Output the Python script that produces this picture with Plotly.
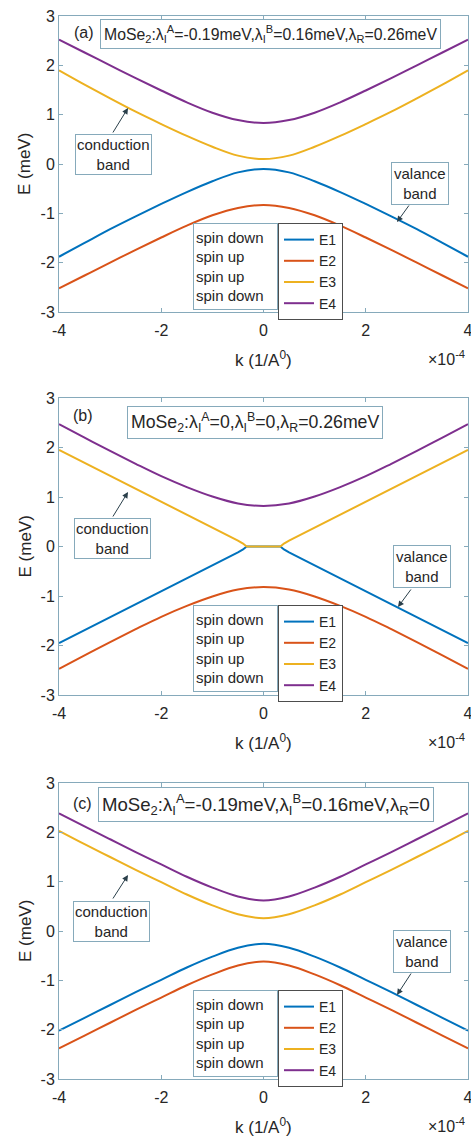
import plotly.graph_objects as go

W, H = 471, 1138

# ---------------- data (k in units of 1e-4 1/A0, E in meV) ----------------
K_AC = [-4, -3.5, -3, -2.5, -2, -1.5, -1, -0.5, 0, 0.5, 1, 1.5, 2, 2.5, 3, 3.5, 4]

E1_A = [-1.88, -1.60, -1.32, -1.06, -0.81, -0.57, -0.35, -0.17, -0.10, -0.17, -0.35, -0.57, -0.81, -1.06, -1.32, -1.60, -1.88]
E2_A = [-2.52, -2.26, -2.00, -1.74, -1.49, -1.25, -1.04, -0.89, -0.83, -0.89, -1.04, -1.25, -1.49, -1.74, -2.00, -2.26, -2.52]
E3_A = [1.90, 1.61, 1.33, 1.06, 0.81, 0.57, 0.35, 0.17, 0.10, 0.17, 0.35, 0.57, 0.81, 1.06, 1.33, 1.61, 1.90]
E4_A = [2.52, 2.26, 2.00, 1.74, 1.49, 1.25, 1.04, 0.89, 0.83, 0.89, 1.04, 1.25, 1.49, 1.74, 2.00, 2.26, 2.52]

K_B_IN = [-4, -3.5, -3, -2.5, -2, -1.5, -1, -0.75, -0.5, -0.4, -0.33, 0, 0.33, 0.4, 0.5, 0.75, 1, 1.5, 2, 2.5, 3, 3.5, 4]
E1_B = [-1.95, -1.69, -1.43, -1.17, -0.91, -0.65, -0.38, -0.25, -0.12, -0.06, 0, 0, 0, -0.06, -0.12, -0.25, -0.38, -0.65, -0.91, -1.17, -1.43, -1.69, -1.95]
E3_B = [1.95, 1.69, 1.43, 1.17, 0.91, 0.65, 0.38, 0.25, 0.12, 0.06, 0, 0, 0, 0.06, 0.12, 0.25, 0.38, 0.65, 0.91, 1.17, 1.43, 1.69, 1.95]
E2_B = [-2.47, -2.20, -1.93, -1.67, -1.42, -1.20, -1.01, -0.87, -0.82, -0.87, -1.01, -1.20, -1.42, -1.67, -1.93, -2.20, -2.47]
E4_B = [2.47, 2.20, 1.93, 1.67, 1.42, 1.20, 1.01, 0.87, 0.82, 0.87, 1.01, 1.20, 1.42, 1.67, 1.93, 2.20, 2.47]

E1_C = [-2.02, -1.76, -1.50, -1.24, -0.99, -0.74, -0.52, -0.34, -0.26, -0.34, -0.52, -0.74, -0.99, -1.24, -1.50, -1.76, -2.02]
E2_C = [-2.38, -2.12, -1.86, -1.60, -1.35, -1.10, -0.88, -0.70, -0.62, -0.70, -0.88, -1.10, -1.35, -1.60, -1.86, -2.12, -2.38]
E3_C = [2.03, 1.76, 1.50, 1.24, 0.99, 0.74, 0.52, 0.34, 0.26, 0.34, 0.52, 0.74, 0.99, 1.24, 1.50, 1.76, 2.03]
E4_C = [2.385, 2.12, 1.86, 1.60, 1.35, 1.10, 0.88, 0.70, 0.62, 0.70, 0.88, 1.10, 1.35, 1.60, 1.86, 2.12, 2.385]

SERIES_NAMES = ["E1", "E2", "E3", "E4"]
SPIN_LABELS = ["spin down", "spin up", "spin up", "spin down"]
X_TICKS = [-4, -2, 0, 2, 4]
X_TICK_TEXT = ["-4", "-2", "0", "2", "4"]
Y_TICKS = [-3, -2, -1, 0, 1, 2, 3]
Y_TICK_TEXT = ["-3", "-2", "-1", "0", "1", "2", "3"]

PANEL_LABELS = ["(a)", "(b)", "(c)"]
PANEL_TITLES = [
    "MoSe<sub>2</sub>:λ<sub>I</sub><sup>A</sup>=-0.19meV,λ<sub>I</sub><sup>B</sup>=0.16meV,λ<sub>R</sub>=0.26meV",
    "MoSe<sub>2</sub>:λ<sub>I</sub><sup>A</sup>=0,λ<sub>I</sub><sup>B</sup>=0,λ<sub>R</sub>=0.26meV",
    "MoSe<sub>2</sub>:λ<sub>I</sub><sup>A</sup>=-0.19meV,λ<sub>I</sub><sup>B</sup>=0.16meV,λ<sub>R</sub>=0",
]

# ---------------- styling ----------------
COLORS = ["#0072BD", "#D95319", "#EDB120", "#7E2F8E"]
FRAME = "#86aabb"
TXT = "#262626"
FONT = "Liberation Sans, Arial, sans-serif"


def px(x):
    return x / W


def py(y):
    return 1 - y / H


# panel pixel boxes: (top, bottom)
PANEL_Y = [(16, 312), (398, 695), (783, 1079)]
X_LEFT, X_RIGHT = 59, 468

panels = [
    ([K_AC, K_AC, K_AC, K_AC], [E1_A, E2_A, E3_A, E4_A]),
    ([K_B_IN, K_AC, K_B_IN, K_AC], [E1_B, E2_B, E3_B, E4_B]),
    ([K_AC, K_AC, K_AC, K_AC], [E1_C, E2_C, E3_C, E4_C]),
]

fig = go.Figure()
legend_ids = ["legend", "legend2", "legend3"]

for p, (ks, es) in enumerate(panels):
    xa = "x" if p == 0 else f"x{p+1}"
    ya = "y" if p == 0 else f"y{p+1}"
    for i in range(4):
        shape = "spline"
        if p == 1 and i in (0, 2):
            shape = "linear"
        fig.add_trace(go.Scatter(
            x=ks[i], y=es[i], mode="lines", name=SERIES_NAMES[i],
            line=dict(color=COLORS[i], width=2, shape=shape),
            xaxis=xa, yaxis=ya, legend=legend_ids[p], showlegend=True,
        ))

layout = dict(
    width=W, height=H, margin=dict(l=0, r=0, t=0, b=0),
    paper_bgcolor="white", plot_bgcolor="white",
    font=dict(family=FONT, color=TXT, size=15),
)

annotations = []
for p, (top, bot) in enumerate(PANEL_Y):
    suf = "" if p == 0 else str(p + 1)
    layout["xaxis" + suf] = dict(
        domain=[px(X_LEFT), px(X_RIGHT)], range=[-4, 4], anchor="y" + suf,
        tickvals=X_TICKS, ticktext=X_TICK_TEXT,
        showline=True, linecolor=FRAME, linewidth=1, mirror="ticks",
        ticks="inside", ticklen=4, tickcolor=FRAME,
        showgrid=False, zeroline=False, tickfont=dict(size=16, color=TXT),
        automargin=False, ticklabeloverflow="allow", ticklabelstandoff=4,
    )
    layout["yaxis" + suf] = dict(
        domain=[py(bot), py(top)], range=[-3, 3], anchor="x" + suf,
        tickvals=Y_TICKS, ticktext=Y_TICK_TEXT,
        showline=True, linecolor=FRAME, linewidth=1, mirror="ticks",
        ticks="inside", ticklen=4, tickcolor=FRAME,
        showgrid=False, zeroline=False, tickfont=dict(size=16, color=TXT),
        automargin=False, ticklabeloverflow="allow",
    )
    # legend (E1..E4)
    leg_top = top + 207
    layout[legend_ids[p]] = dict(
        x=px(278), y=py(leg_top), xanchor="left", yanchor="top",
        bordercolor="#4d4d4d", borderwidth=1, bgcolor="white",
        font=dict(size=14, color=TXT), itemwidth=30, tracegroupgap=0,
        traceorder="normal",
    )
    # spin label box
    annotations.append(dict(
        xref="paper", yref="paper", x=px(193), y=py(leg_top),
        xanchor="left", yanchor="top", showarrow=False,
        text="<br>".join(SPIN_LABELS), align="left", valign="middle",
        width=79, height=81, borderpad=2, borderwidth=1, bordercolor=FRAME,
        bgcolor="white", font=dict(size=15, color=TXT),
    ))
    zero_y = (top + bot) / 2
    # axis titles
    annotations.append(dict(
        xref="paper", yref="paper", x=px(25), y=py(zero_y), textangle=-90,
        text="E (meV)", showarrow=False, font=dict(size=17, color=TXT),
        xanchor="center", yanchor="middle",
    ))
    annotations.append(dict(
        xref="paper", yref="paper", x=px(263), y=py(bot + 47),
        text="k (1/A<sup>0</sup>)", showarrow=False, font=dict(size=17, color=TXT),
        xanchor="center", yanchor="middle",
    ))
    annotations.append(dict(
        xref="paper", yref="paper", x=px(446), y=py(bot + 46),
        text="×10<sup>-4</sup>", showarrow=False, font=dict(size=16, color=TXT),
        xanchor="center", yanchor="middle",
    ))

# panel labels and title boxes
LABEL_POS = [(84, 33), (83, 415), (82, 803)]
TITLE_POS = [(270, 34), (255, 423), (266, 804)]
TITLE_SIZE = [15.8, 17.7, 18.6]
for p in range(3):
    annotations.append(dict(
        xref="paper", yref="paper", x=px(LABEL_POS[p][0]), y=py(LABEL_POS[p][1]),
        text=PANEL_LABELS[p], showarrow=False, font=dict(size=16, color=TXT),
        xanchor="center", yanchor="middle",
    ))
    annotations.append(dict(
        xref="paper", yref="paper", x=px(TITLE_POS[p][0]), y=py(TITLE_POS[p][1]),
        text=PANEL_TITLES[p], showarrow=False, font=dict(size=TITLE_SIZE[p], color=TXT),
        xanchor="center", yanchor="middle", borderwidth=1, bordercolor=FRAME,
        borderpad=3, bgcolor="white",
    ))

# band label boxes and arrows
COND_BOX = [(113, 154), (112, 538), (111, 921)]
VAL_BOX = [(420, 183), (422, 566), (422, 951)]
COND_ARROW = [((128, 108), (-16, 26)), ((128, 492), (-16, 26)), ((128, 875), (-16, 25))]
VAL_ARROW = [((397, 222), (13, -18)), ((398, 607), (14, -19)), ((397, 995), (15, -23))]
for p in range(3):
    annotations.append(dict(
        xref="paper", yref="paper", x=px(COND_BOX[p][0]), y=py(COND_BOX[p][1]),
        text="conduction<br>band", showarrow=False, font=dict(size=15, color=TXT),
        xanchor="center", yanchor="middle", borderwidth=1, bordercolor=FRAME,
        borderpad=1, bgcolor="white",
    ))
    annotations.append(dict(
        xref="paper", yref="paper", x=px(VAL_BOX[p][0]), y=py(VAL_BOX[p][1]),
        text="valance<br>band", showarrow=False, font=dict(size=15, color=TXT),
        xanchor="center", yanchor="middle", borderwidth=1, bordercolor=FRAME,
        borderpad=2, bgcolor="white",
    ))
    for (tip, off) in (COND_ARROW[p], VAL_ARROW[p]):
        annotations.append(dict(
            xref="paper", yref="paper", x=px(tip[0]), y=py(tip[1]),
            ax=off[0], ay=off[1], text="", showarrow=True,
            arrowhead=2, arrowsize=1.2, arrowwidth=1, arrowcolor="#2a3f4a",
            standoff=0,
        ))

layout["annotations"] = annotations
fig.update_layout(**layout)
fig.write_html(
    "out.html",
    config={"displayModeBar": False},
    post_script="document.body.style.margin='0';"
                "document.documentElement.style.overflow='hidden';"
                "document.body.style.overflow='hidden';",
)
